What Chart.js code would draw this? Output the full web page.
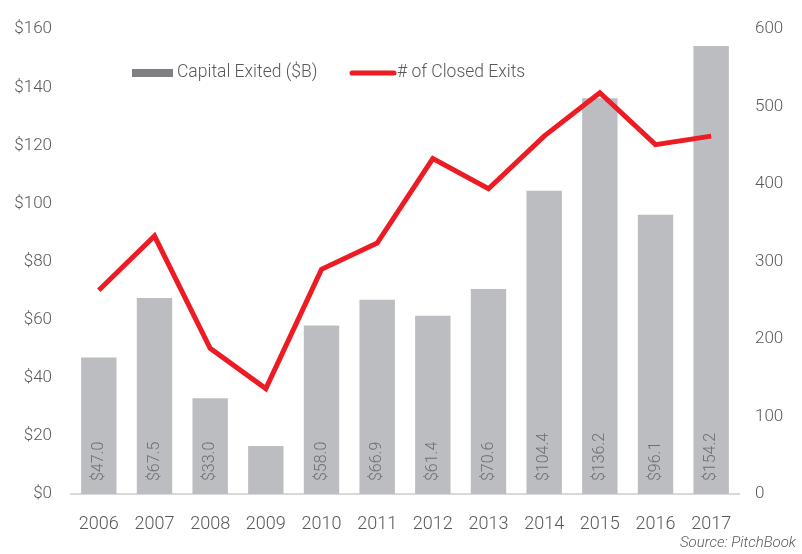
<!DOCTYPE html>
<html>
<head>
<meta charset="utf-8">
<script src="https://cdn.jsdelivr.net/npm/chart.js@4.4.1/dist/chart.umd.min.js"></script>
<style>
  html, body { margin: 0; padding: 0; background: #fff; }
  #wrap { position: relative; width: 802px; height: 554px; }
  #source { position: absolute; right: 6px; top: 533px; font: italic 300 15px Roboto, sans-serif; color: #595959; }
</style>
</head>
<body>
<div id="wrap">
  <canvas id="myChart" width="802" height="554"></canvas>
  <div id="source">Source: PitchBook</div>
</div>
<script>
// data
const years = ['2006', '2007', '2008', '2009', '2010', '2011', '2012', '2013', '2014', '2015', '2016', '2017']
const capitalExited = [47.0, 67.5, 33.0, 16.5, 58.0, 66.9, 61.4, 70.6, 104.4, 136.2, 96.1, 154.2]
const capitalLabels = ['$47.0', '$67.5', '$33.0', '', '$58.0', '$66.9', '$61.4', '$70.6', '$104.4', '$136.2', '$96.1', '$154.2']
const closedExits = [263, 333, 188, 136, 290, 324, 433, 394, 462, 518, 451, 462]

const FONT = 'Roboto, sans-serif'
const TEXT = '#595959'

// value labels written upward inside each bar
const barLabels = {
    id: 'barLabels',
    afterDatasetsDraw(chart) {
        const ctx = chart.ctx
        const meta = chart.getDatasetMeta(1)
        const base = chart.scales.y.getPixelForValue(0)
        ctx.save()
        ctx.font = '300 16px ' + FONT
        ctx.fillStyle = '#6d6e71'
        ctx.textAlign = 'left'
        ctx.textBaseline = 'middle'
        meta.data.forEach(function (bar, i) {
            ctx.save()
            ctx.translate(bar.x, base - 13)
            ctx.rotate(-Math.PI / 2)
            ctx.fillText(capitalLabels[i], 0, 0)
            ctx.restore()
        })
        ctx.restore()
    }
}

// right axis labels, left aligned a fixed gap after the plot
const rightTicks = {
    id: 'rightTicks',
    afterDraw(chart) {
        const ctx = chart.ctx
        const scale = chart.scales.y1
        ctx.save()
        ctx.font = '300 17px ' + FONT
        ctx.fillStyle = TEXT
        ctx.textAlign = 'left'
        ctx.textBaseline = 'middle'
        scale.ticks.forEach(function (t) {
            ctx.fillText(String(t.value), chart.chartArea.right + 16, scale.getPixelForValue(t.value))
        })
        ctx.restore()
    }
}

// legend drawn over the plot like the original
const insideLegend = {
    id: 'insideLegend',
    afterDraw(chart) {
        const ctx = chart.ctx
        ctx.save()
        ctx.font = '300 17.5px ' + FONT
        ctx.textBaseline = 'middle'
        // bars entry
        ctx.fillStyle = '#808084'
        ctx.fillRect(132, 69, 41, 8)
        ctx.fillStyle = TEXT
        ctx.fillText('Capital Exited ($B)', 177, 73)
        // line entry
        ctx.strokeStyle = '#ed1c24'
        ctx.lineWidth = 5
        ctx.lineCap = 'round'
        ctx.beginPath()
        ctx.moveTo(352, 73)
        ctx.lineTo(394, 73)
        ctx.stroke()
        ctx.fillText('# of Closed Exits', 397, 73)
        ctx.restore()
    }
}

let ctx = document.getElementById('myChart')
let myChart = new Chart(ctx, {
    data: {
        labels: years,
        datasets: [
            {
                type: 'line',
                label: '# of Closed Exits',
                data: closedExits,
                yAxisID: 'y1',
                borderColor: '#ed1c24',
                borderWidth: 5,
                pointRadius: 0,
                tension: 0,
                order: 0
            },
            {
                type: 'bar',
                label: 'Capital Exited ($B)',
                data: capitalExited,
                yAxisID: 'y',
                backgroundColor: '#bcbdc0',
                barPercentage: 0.636,
                categoryPercentage: 1,
                order: 1
            }
        ]
    },
    options: {
        responsive: false,
        animation: false,
        layout: { padding: { top: 24, left: 0, right: 0, bottom: 0 } },
        plugins: {
            legend: { display: false },
            tooltip: { enabled: false }
        },
        scales: {
            x: {
                grid: { display: false, drawTicks: false },
                border: { display: true, color: '#d9d9d9', width: 2 },
                ticks: { color: TEXT, font: { family: FONT, size: 18, weight: '300' }, padding: 20, maxRotation: 0 },
                afterFit: function (s) { s.height = 60 }
            },
            y: {
                position: 'left',
                min: 0,
                max: 160,
                grid: { display: false, drawTicks: false },
                border: { display: false },
                ticks: {
                    stepSize: 20,
                    color: TEXT,
                    padding: 19,
                    font: { family: FONT, size: 17, weight: '300' },
                    callback: function (v) { return '$' + v }
                },
                afterFit: function (s) { s.width = 71 }
            },
            y1: {
                position: 'right',
                min: 0,
                max: 600,
                grid: { display: false, drawTicks: false },
                border: { display: false },
                ticks: {
                    stepSize: 100,
                    color: 'rgba(0,0,0,0)',
                    font: { family: FONT, size: 17, weight: '300' }
                },
                afterFit: function (s) { s.width = 63 }
            }
        }
    },
    plugins: [barLabels, rightTicks, insideLegend]
});
</script>
</body>
</html>
